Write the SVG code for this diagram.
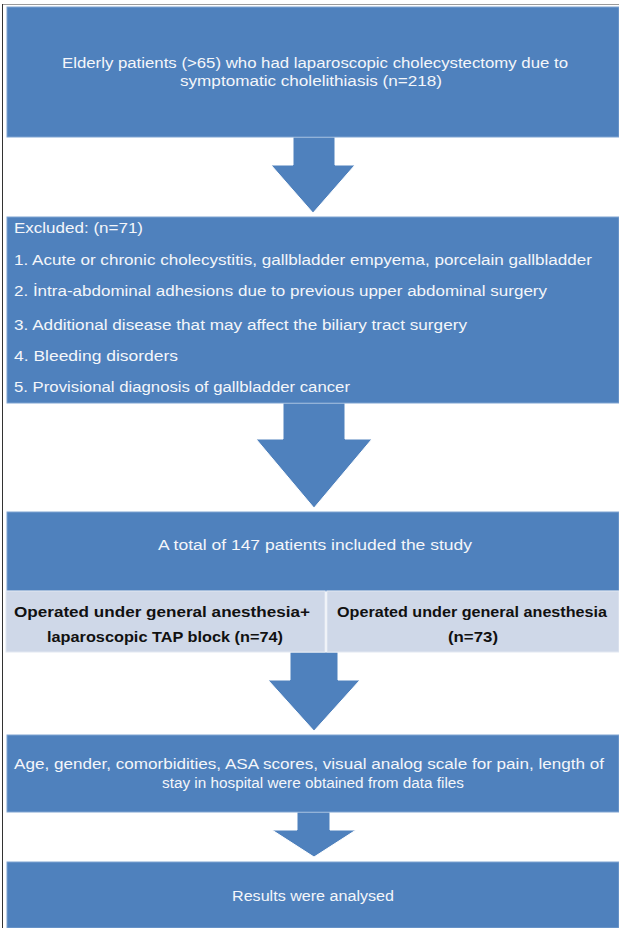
<svg xmlns="http://www.w3.org/2000/svg" width="619" height="928" viewBox="0 0 619 928">
<style>
.box{fill:#4f81bd;stroke:#7fa3d1;stroke-width:1}
.lite{fill:#cfd8e8;stroke:#e2e8f2;stroke-width:1}
.arrow{fill:#4f81bd;stroke:#ffffff;stroke-width:1}
.t{font-family:"Liberation Sans",Arial,sans-serif;font-size:14px;fill:#f4f6fa}
.c{text-anchor:middle}
.b{font-family:"Liberation Sans",Arial,sans-serif;font-size:15px;font-weight:bold;fill:#111111;text-anchor:middle}
</style>
<rect x="0" y="0" width="619" height="928" fill="#ffffff"/>
<line x1="2" y1="4.5" x2="619" y2="4.5" stroke="#9a9a9a" stroke-width="1"/>
<line x1="2.5" y1="4" x2="2.5" y2="928" stroke="#333333" stroke-width="1"/>
<g id="connectors">
<polygon class="arrow" points="293,137 335,137 335,165 355,165 313,213 271,165 293,165"/>
<polygon class="arrow" points="283,403 345,403 345,439 372,439 314,508 256,439 283,439"/>
<polygon class="arrow" points="290,652 338,652 338,680 360,680 314,731 268,680 290,680"/>
<polygon class="arrow" points="297,812 330,812 330,830 356,830 314,857 272,830 297,830"/>
</g>
<g id="n1">
<rect class="box" x="7" y="7" width="612" height="130"/>
<text class="t c" x="315" y="68" textLength="506" lengthAdjust="spacingAndGlyphs">Elderly patients (&gt;65) who had laparoscopic cholecystectomy due to</text>
<text class="t c" x="311" y="86" textLength="262" lengthAdjust="spacingAndGlyphs">symptomatic cholelithiasis (n=218)</text>
</g>
<g id="n2">
<rect class="box" x="7" y="217" width="612" height="186"/>
<text class="t" x="14" y="233" textLength="129" lengthAdjust="spacingAndGlyphs">Excluded: (n=71)</text>
<text class="t" x="14" y="265" textLength="578" lengthAdjust="spacingAndGlyphs">1. Acute or chronic cholecystitis,  gallbladder empyema, porcelain gallbladder</text>
<text class="t" x="14" y="296" textLength="533" lengthAdjust="spacingAndGlyphs">2. İntra-abdominal adhesions due to previous upper abdominal surgery</text>
<text class="t" x="14" y="330" textLength="453" lengthAdjust="spacingAndGlyphs">3. Additional disease that may affect the biliary tract surgery</text>
<text class="t" x="14" y="361" textLength="164" lengthAdjust="spacingAndGlyphs">4. Bleeding disorders</text>
<text class="t" x="14" y="392" textLength="336" lengthAdjust="spacingAndGlyphs">5. Provisional diagnosis of gallbladder cancer</text>
</g>
<g id="n3">
<rect class="box" x="7" y="512" width="612" height="79"/>
<text class="t c" x="315" y="550" textLength="314" lengthAdjust="spacingAndGlyphs">A total of  147 patients included the study</text>
</g>
<g id="n4">
<rect class="lite" x="6" y="591" width="319" height="61"/>
<text class="b" x="162" y="617" textLength="296" lengthAdjust="spacingAndGlyphs">Operated under general anesthesia+</text>
<text class="b" x="165" y="642" textLength="236" lengthAdjust="spacingAndGlyphs">laparoscopic TAP block (n=74)</text>
</g>
<g id="n5">
<rect class="lite" x="327" y="591" width="292" height="61"/>
<text class="b" x="472" y="617" textLength="270" lengthAdjust="spacingAndGlyphs">Operated under general anesthesia</text>
<text class="b" x="473" y="642" textLength="50" lengthAdjust="spacingAndGlyphs">(n=73)</text>
</g>
<g id="n6">
<rect class="box" x="7" y="735" width="612" height="77"/>
<text class="t c" x="309" y="769" textLength="590" lengthAdjust="spacingAndGlyphs">Age, gender, comorbidities, ASA scores, visual  analog  scale for pain, length of</text>
<text class="t c" x="313" y="788" textLength="302" lengthAdjust="spacingAndGlyphs">stay in hospital were  obtained from data files</text>
</g>
<g id="n7">
<rect class="box" x="7" y="862" width="612" height="66"/>
<text class="t c" x="313" y="901" textLength="162" lengthAdjust="spacingAndGlyphs">Results were analysed</text>
</g>
</svg>
